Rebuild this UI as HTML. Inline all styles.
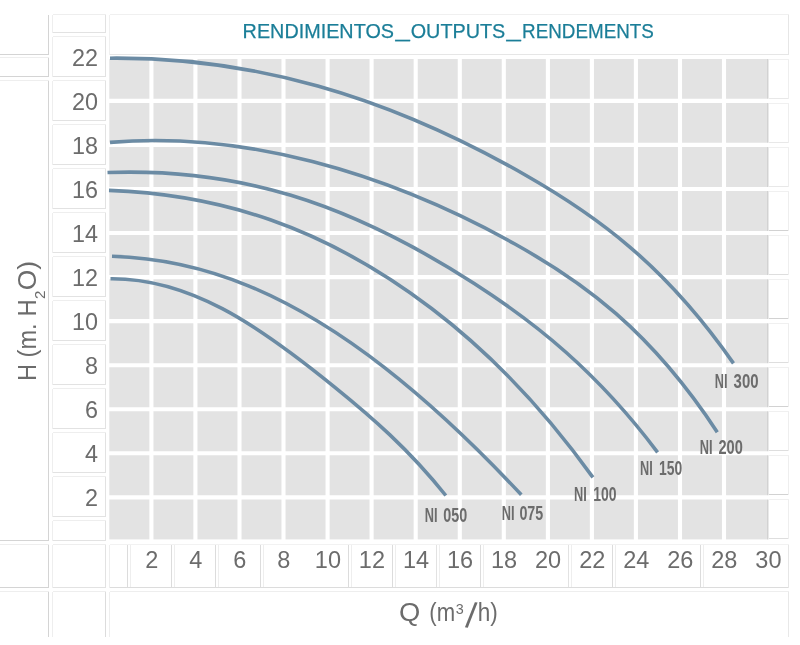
<!DOCTYPE html>
<html lang="es"><head><meta charset="utf-8"><title>Rendimientos</title>
<style>html,body{margin:0;padding:0;background:#fff}body{width:800px;height:645px;overflow:hidden}svg{display:block}text{font-family:"Liberation Sans",sans-serif}</style>
</head><body>
<svg width="800" height="645" viewBox="0 0 800 645">
<rect width="800" height="645" fill="#fff"/>
<g fill="none" stroke-width="1" shape-rendering="crispEdges">
<path d="M52.5 14.5H105.5" stroke="#eeeeee"/>
<path d="M52.5 14.5V32.5" stroke="#eeeeee"/>
<path d="M52.5 32.5H105.5" stroke="#e2e2e2"/>
<path d="M105.5 14.5V32.5" stroke="#e2e2e2"/>
<path d="M52.5 36.5H105.5" stroke="#eeeeee"/>
<path d="M52.5 36.5V76.5" stroke="#eeeeee"/>
<path d="M52.5 76.5H105.5" stroke="#e2e2e2"/>
<path d="M105.5 36.5V76.5" stroke="#e2e2e2"/>
<path d="M52.5 80.5H105.5" stroke="#eeeeee"/>
<path d="M52.5 80.5V120.5" stroke="#eeeeee"/>
<path d="M52.5 120.5H105.5" stroke="#e2e2e2"/>
<path d="M105.5 80.5V120.5" stroke="#e2e2e2"/>
<path d="M52.5 124.5H105.5" stroke="#eeeeee"/>
<path d="M52.5 124.5V164.5" stroke="#eeeeee"/>
<path d="M52.5 164.5H105.5" stroke="#e2e2e2"/>
<path d="M105.5 124.5V164.5" stroke="#e2e2e2"/>
<path d="M52.5 168.5H105.5" stroke="#eeeeee"/>
<path d="M52.5 168.5V208.5" stroke="#eeeeee"/>
<path d="M52.5 208.5H105.5" stroke="#e2e2e2"/>
<path d="M105.5 168.5V208.5" stroke="#e2e2e2"/>
<path d="M52.5 212.5H105.5" stroke="#eeeeee"/>
<path d="M52.5 212.5V252.5" stroke="#eeeeee"/>
<path d="M52.5 252.5H105.5" stroke="#e2e2e2"/>
<path d="M105.5 212.5V252.5" stroke="#e2e2e2"/>
<path d="M52.5 256.5H105.5" stroke="#eeeeee"/>
<path d="M52.5 256.5V296.5" stroke="#eeeeee"/>
<path d="M52.5 296.5H105.5" stroke="#e2e2e2"/>
<path d="M105.5 256.5V296.5" stroke="#e2e2e2"/>
<path d="M52.5 300.5H105.5" stroke="#eeeeee"/>
<path d="M52.5 300.5V340.5" stroke="#eeeeee"/>
<path d="M52.5 340.5H105.5" stroke="#e2e2e2"/>
<path d="M105.5 300.5V340.5" stroke="#e2e2e2"/>
<path d="M52.5 344.5H105.5" stroke="#eeeeee"/>
<path d="M52.5 344.5V384.5" stroke="#eeeeee"/>
<path d="M52.5 384.5H105.5" stroke="#e2e2e2"/>
<path d="M105.5 344.5V384.5" stroke="#e2e2e2"/>
<path d="M52.5 388.5H105.5" stroke="#eeeeee"/>
<path d="M52.5 388.5V428.5" stroke="#eeeeee"/>
<path d="M52.5 428.5H105.5" stroke="#e2e2e2"/>
<path d="M105.5 388.5V428.5" stroke="#e2e2e2"/>
<path d="M52.5 432.5H105.5" stroke="#eeeeee"/>
<path d="M52.5 432.5V472.5" stroke="#eeeeee"/>
<path d="M52.5 472.5H105.5" stroke="#e2e2e2"/>
<path d="M105.5 432.5V472.5" stroke="#e2e2e2"/>
<path d="M52.5 476.5H105.5" stroke="#eeeeee"/>
<path d="M52.5 476.5V516.5" stroke="#eeeeee"/>
<path d="M52.5 516.5H105.5" stroke="#e2e2e2"/>
<path d="M105.5 476.5V516.5" stroke="#e2e2e2"/>
<path d="M52.5 520.5H105.5" stroke="#eeeeee"/>
<path d="M52.5 520.5V540.5" stroke="#eeeeee"/>
<path d="M52.5 540.5H105.5" stroke="#e2e2e2"/>
<path d="M105.5 520.5V540.5" stroke="#e2e2e2"/>
<path d="M52.5 544.5H105.5" stroke="#eeeeee"/>
<path d="M52.5 544.5V587.5" stroke="#eeeeee"/>
<path d="M52.5 587.5H105.5" stroke="#e2e2e2"/>
<path d="M105.5 544.5V587.5" stroke="#e2e2e2"/>
<path d="M52.5 591.5H105.5" stroke="#eeeeee"/>
<path d="M52.5 591.5V636.5" stroke="#eeeeee"/>
<path d="M105.5 591.5V636.5" stroke="#dcdcdc"/>
<path d="M-1 54.5H48.5" stroke="#d4d4d4"/>
<path d="M48.5 14.5V54.5" stroke="#d4d4d4"/>
<path d="M-1 57.5H48.5" stroke="#eeeeee"/>
<path d="M-1 76.5H48.5" stroke="#d4d4d4"/>
<path d="M48.5 57.5V76.5" stroke="#d4d4d4"/>
<path d="M-1 80.5H48.5" stroke="#eeeeee"/>
<path d="M-1 540.5H48.5" stroke="#d4d4d4"/>
<path d="M48.5 80.5V540.5" stroke="#d4d4d4"/>
<path d="M-1 544.5H48.5" stroke="#eeeeee"/>
<path d="M-1 587.5H48.5" stroke="#d4d4d4"/>
<path d="M48.5 544.5V587.5" stroke="#d4d4d4"/>
<path d="M-1 591.5H48.5" stroke="#eeeeee"/>
<path d="M48.5 591.5V636.5" stroke="#d4d4d4"/>
<path d="M109.5 14.5H788.5" stroke="#f0f0f0"/>
<path d="M109.5 14.5V54.5" stroke="#f0f0f0"/>
<path d="M109.5 54.5H788.5" stroke="#e6e6e6"/>
<path d="M788.5 14.5V54.5" stroke="#e6e6e6"/>
<path d="M127.5 544.5V587.5" stroke="#dcdcdc"/>
<path d="M130.5 544.5V587.5" stroke="#eeeeee"/>
<path d="M171.5 544.5V587.5" stroke="#dcdcdc"/>
<path d="M174.5 544.5V587.5" stroke="#eeeeee"/>
<path d="M215.5 544.5V587.5" stroke="#dcdcdc"/>
<path d="M218.5 544.5V587.5" stroke="#eeeeee"/>
<path d="M260.5 544.5V587.5" stroke="#dcdcdc"/>
<path d="M263.5 544.5V587.5" stroke="#eeeeee"/>
<path d="M348.5 544.5V587.5" stroke="#dcdcdc"/>
<path d="M351.5 544.5V587.5" stroke="#eeeeee"/>
<path d="M392.5 544.5V587.5" stroke="#dcdcdc"/>
<path d="M395.5 544.5V587.5" stroke="#eeeeee"/>
<path d="M436.5 544.5V587.5" stroke="#e2e2e2"/>
<path d="M439.5 544.5V587.5" stroke="#eeeeee"/>
<path d="M480.5 544.5V587.5" stroke="#dcdcdc"/>
<path d="M483.5 544.5V587.5" stroke="#eeeeee"/>
<path d="M568.5 544.5V587.5" stroke="#e2e2e2"/>
<path d="M571.5 544.5V587.5" stroke="#eeeeee"/>
<path d="M612.5 544.5V587.5" stroke="#dcdcdc"/>
<path d="M615.5 544.5V587.5" stroke="#eeeeee"/>
<path d="M700.5 544.5V587.5" stroke="#dcdcdc"/>
<path d="M703.5 544.5V587.5" stroke="#eeeeee"/>
<path d="M109.5 544.5V587.5" stroke="#eeeeee"/>
<path d="M109.5 587.5H788.5" stroke="#dcdcdc"/>
<path d="M109.5 544.5H788.5" stroke="#f2f2f2"/>
<path d="M788.5 544.5V587.5" stroke="#e6e6e6"/>
<path d="M109.5 591.5H788.5" stroke="#eeeeee"/>
<path d="M109.5 591.5V636.5" stroke="#eeeeee"/>
<path d="M788.5 591.5V636.5" stroke="#e8e8e8"/>
<path d="M769 59.5H788.5" stroke="#f0f0f0"/>
<path d="M769 98.5H788.5" stroke="#e8e8e8"/>
<path d="M788.5 59.5V98.5" stroke="#eeeeee"/>
<path d="M769 103.5H788.5" stroke="#f0f0f0"/>
<path d="M769 142.5H788.5" stroke="#e8e8e8"/>
<path d="M788.5 103.5V142.5" stroke="#eeeeee"/>
<path d="M769 147.5H788.5" stroke="#f0f0f0"/>
<path d="M769 186.5H788.5" stroke="#e8e8e8"/>
<path d="M788.5 147.5V186.5" stroke="#eeeeee"/>
<path d="M769 191.5H788.5" stroke="#f0f0f0"/>
<path d="M769 230.5H788.5" stroke="#d2d2d2"/>
<path d="M788.5 191.5V230.5" stroke="#eeeeee"/>
<path d="M769 235.5H788.5" stroke="#f0f0f0"/>
<path d="M769 274.5H788.5" stroke="#dedede"/>
<path d="M788.5 235.5V274.5" stroke="#eeeeee"/>
<path d="M769 279.5H788.5" stroke="#f0f0f0"/>
<path d="M769 318.5H788.5" stroke="#d2d2d2"/>
<path d="M788.5 279.5V318.5" stroke="#eeeeee"/>
<path d="M769 323.5H788.5" stroke="#f0f0f0"/>
<path d="M769 362.5H788.5" stroke="#dedede"/>
<path d="M788.5 323.5V362.5" stroke="#eeeeee"/>
<path d="M769 367.5H788.5" stroke="#f0f0f0"/>
<path d="M769 406.5H788.5" stroke="#d2d2d2"/>
<path d="M788.5 367.5V406.5" stroke="#eeeeee"/>
<path d="M769 411.5H788.5" stroke="#f0f0f0"/>
<path d="M769 450.5H788.5" stroke="#dedede"/>
<path d="M788.5 411.5V450.5" stroke="#eeeeee"/>
<path d="M769 455.5H788.5" stroke="#f0f0f0"/>
<path d="M769 494.5H788.5" stroke="#d2d2d2"/>
<path d="M788.5 455.5V494.5" stroke="#eeeeee"/>
<path d="M769 499.5H788.5" stroke="#f0f0f0"/>
<path d="M769 538.5H788.5" stroke="#dedede"/>
<path d="M788.5 499.5V538.5" stroke="#eeeeee"/>
</g>
<rect x="109.3" y="59.0" width="659.0" height="480.4" fill="#e3e3e3"/>
<rect x="767.3" y="59.0" width="1.0" height="480.4" fill="#cbcbcb"/>
<path d="M151.4 58.0V540.4M195.4 58.0V540.4M239.5 58.0V540.4M283.5 58.0V540.4M327.6 58.0V540.4M371.6 58.0V540.4M415.7 58.0V540.4M459.8 58.0V540.4M503.8 58.0V540.4M547.9 58.0V540.4M591.9 58.0V540.4M635.9 58.0V540.4M680.0 58.0V540.4M724.0 58.0V540.4M108.3 100.9H769.3M108.3 144.9H769.3M108.3 189.0H769.3M108.3 233.0H769.3M108.3 277.1H769.3M108.3 321.1H769.3M108.3 365.2H769.3M108.3 409.2H769.3M108.3 453.3H769.3M108.3 497.4H769.3" stroke="#fff" stroke-width="4.1" fill="none"/>
<g fill="none" stroke="#6b8ba4" stroke-width="3.6" stroke-linejoin="round">
<path d="M110.0 58.2C179.3 57.6 248.6 66.5 317.8 86.0C387.1 105.5 456.4 135.6 525.7 175.2C594.9 214.7 664.2 263.8 733.5 363.4"/>
<path d="M110.0 142.4C177.5 136.6 245.0 144.1 312.4 161.6C379.9 179.0 447.4 206.4 514.9 244.0C582.3 281.6 649.8 329.5 717.3 432.2"/>
<path d="M107.5 172.5C168.6 170.3 229.7 176.8 290.9 195.3C352.0 213.7 413.1 244.2 474.2 283.5C535.4 322.9 596.5 371.1 657.6 452.3"/>
<path d="M109.0 190.4C162.8 192.3 216.5 201.0 270.3 219.8C324.1 238.6 377.8 267.6 431.6 308.5C485.4 349.4 539.1 402.4 592.9 477.4"/>
<path d="M112.0 256.2C157.5 257.6 203.0 267.1 248.4 285.8C293.9 304.6 339.4 332.4 384.9 367.9C430.3 403.3 475.8 446.2 521.3 494.8"/>
<path d="M110.5 278.7C147.8 278.4 185.0 289.1 222.3 308.6C259.5 328.1 296.8 356.4 334.0 386.6C371.3 416.8 408.5 448.8 445.8 495.5"/>
</g>
<g fill="#6c6c6c" font-size="20.2" font-weight="bold">
<text y="388.3"><tspan x="714.8" textLength="12.8" lengthAdjust="spacingAndGlyphs">NI</tspan> <tspan x="733.6" textLength="24.9" lengthAdjust="spacingAndGlyphs">300</tspan></text>
<text y="454.3"><tspan x="699.8" textLength="12.8" lengthAdjust="spacingAndGlyphs">NI</tspan> <tspan x="718.5" textLength="24.3" lengthAdjust="spacingAndGlyphs">200</tspan></text>
<text y="475.0"><tspan x="640.1" textLength="12.7" lengthAdjust="spacingAndGlyphs">NI</tspan> <tspan x="659.0" textLength="23.2" lengthAdjust="spacingAndGlyphs">150</tspan></text>
<text y="500.5"><tspan x="574.1" textLength="12.8" lengthAdjust="spacingAndGlyphs">NI</tspan> <tspan x="593.3" textLength="23.3" lengthAdjust="spacingAndGlyphs">100</tspan></text>
<text y="520.4"><tspan x="501.7" textLength="12.8" lengthAdjust="spacingAndGlyphs">NI</tspan> <tspan x="519.4" textLength="23.8" lengthAdjust="spacingAndGlyphs">075</tspan></text>
<text y="522.4"><tspan x="424.7" textLength="12.8" lengthAdjust="spacingAndGlyphs">NI</tspan> <tspan x="443.3" textLength="23.9" lengthAdjust="spacingAndGlyphs">050</tspan></text>
</g>
<text font-size="21.0" fill="#1b7e98" stroke="#1b7e98" stroke-width="0.25"><tspan x="242.6" y="38.4" textLength="151.4" lengthAdjust="spacingAndGlyphs">RENDIMIENTOS</tspan><tspan x="395.4" y="36.6" textLength="14.3" lengthAdjust="spacingAndGlyphs">_</tspan><tspan x="410.7" y="38.4" textLength="94.6" lengthAdjust="spacingAndGlyphs">OUTPUTS</tspan><tspan x="506.4" y="36.6" textLength="14.3" lengthAdjust="spacingAndGlyphs">_</tspan><tspan x="522.1" y="38.4" textLength="131.8" lengthAdjust="spacingAndGlyphs">RENDEMENTS</tspan></text>
<g fill="#6c6c6c" font-size="23.4" text-anchor="end">
<text x="98.1" y="65.8">22</text>
<text x="98.1" y="109.8">20</text>
<text x="98.1" y="153.8">18</text>
<text x="98.1" y="197.9">16</text>
<text x="98.1" y="241.9">14</text>
<text x="98.1" y="286.0">12</text>
<text x="98.1" y="330.1">10</text>
<text x="98.1" y="374.1">8</text>
<text x="98.1" y="418.2">6</text>
<text x="98.1" y="462.2">4</text>
<text x="98.1" y="506.3">2</text>
</g>
<g fill="#6c6c6c" font-size="23.5" text-anchor="middle">
<text x="151.7" y="567.8">2</text>
<text x="195.8" y="567.8">4</text>
<text x="239.8" y="567.8">6</text>
<text x="283.8" y="567.8">8</text>
<text x="327.9" y="567.8">10</text>
<text x="371.9" y="567.8">12</text>
<text x="416.0" y="567.8">14</text>
<text x="460.1" y="567.8">16</text>
<text x="504.1" y="567.8">18</text>
<text x="548.1" y="567.8">20</text>
<text x="592.2" y="567.8">22</text>
<text x="636.2" y="567.8">24</text>
<text x="680.3" y="567.8">26</text>
<text x="724.3" y="567.8">28</text>
<text x="768.4" y="567.8">30</text>
</g>
<text transform="translate(35.6 379.1) rotate(-90)" fill="#6c6c6c" font-size="26.0"><tspan x="-1.9" y="0" font-size="26.0" textLength="17.0" lengthAdjust="spacingAndGlyphs">H</tspan> <tspan x="21.7" y="0" font-size="26.0" textLength="34.0" lengthAdjust="spacingAndGlyphs">(m.</tspan> <tspan x="62.6" y="0" font-size="26.0" textLength="17.3" lengthAdjust="spacingAndGlyphs">H</tspan><tspan x="80.2" y="9.4" font-size="15.2" textLength="8.4" lengthAdjust="spacingAndGlyphs">2</tspan><tspan x="88.9" y="0" font-size="26.0" textLength="29.3" lengthAdjust="spacingAndGlyphs">O)</tspan></text>
<text fill="#6c6c6c" font-size="26.0"><tspan x="399.0" y="621.3" font-size="26.0" textLength="21.3" lengthAdjust="spacingAndGlyphs">Q</tspan> <tspan x="429.3" y="621.3" font-size="26.0" textLength="25.8" lengthAdjust="spacingAndGlyphs">(m</tspan><tspan x="455.7" y="613.8" font-size="14.4" textLength="8.0" lengthAdjust="spacingAndGlyphs">3</tspan><tspan x="465.0" y="627.0" font-size="35.4" rotate="6.3">/</tspan><tspan x="477.8" y="621.3" font-size="26.0" textLength="20.1" lengthAdjust="spacingAndGlyphs" rotate="0">h)</tspan></text>
</svg></body></html>
